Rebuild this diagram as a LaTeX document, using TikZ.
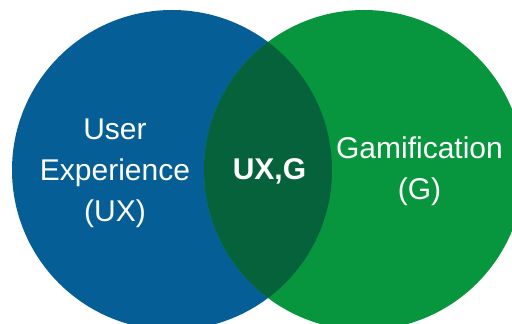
\documentclass[tikz,border=0pt]{standalone}
\usepackage{fontspec}
\setmainfont{Liberation Sans}
\definecolor{uxblue}{RGB}{5,95,150}
\definecolor{gamgreen}{RGB}{7,150,61}
\definecolor{overlapgreen}{RGB}{6,98,58}
\begin{document}
\begin{tikzpicture}[x=1pt,y=1pt,
  label text/.style={text=white,inner sep=0pt,align=center,anchor=base,
    font=\fontsize{30}{41}\selectfont}]
  \useasboundingbox (0,0) rectangle (512,324);
  \fill[white] (0,0) rectangle (512,324);
  \begin{scope}
    \clip (0,0) rectangle (512,324);
    % the two sets
    \fill[uxblue] (172,154) circle (160);
    \fill[gamgreen] (364,154) circle (160);
    % their overlap
    \begin{scope}
      \clip (172,154) circle (160);
      \fill[overlapgreen] (364,154) circle (160);
    \end{scope}
  \end{scope}
  % anchor=base sits on the last line of each label
  \node[label text] (ux) at (115,102) {User\\Experience\\(UX)};
  \node[label text] (gam) at (419.5,124) {Gamification\\(G)};
  \node[label text,font=\fontsize{30}{41}\selectfont\bfseries] (both) at (269.5,144) {UX,G};
\end{tikzpicture}
\end{document}
